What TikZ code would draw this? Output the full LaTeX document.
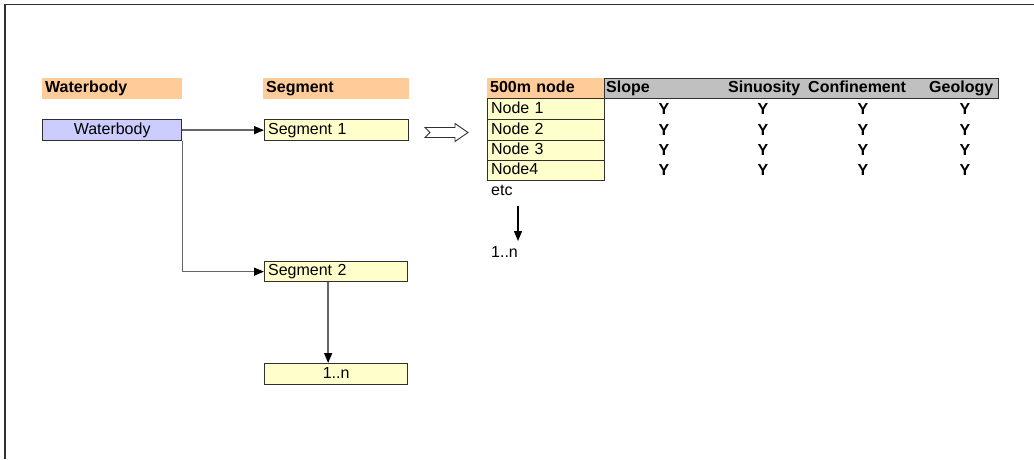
\documentclass[tikz,border=0pt]{standalone}
\usepackage{fontspec}
\setmainfont{Liberation Sans}
\usetikzlibrary{arrows.meta,calc}
\definecolor{hdrorange}{HTML}{FFCC99}
\definecolor{cellyellow}{HTML}{FFFFCC}
\definecolor{cellblue}{HTML}{CCCCFF}
\definecolor{hdrgray}{HTML}{C0C0C0}
\definecolor{edgecol}{HTML}{303030}
\definecolor{linkgray}{HTML}{666666}
\begin{document}
\begin{tikzpicture}[x=1pt,y=-1pt,
  font=\fontsize{16}{19}\selectfont,
  basebox/.style={anchor=north west, inner ysep=0pt, text height=11.5pt, text depth=3pt},
  hdr/.style={basebox, fill=hdrorange, inner xsep=3pt, align=left, font=\fontsize{16}{19}\selectfont\bfseries},
  cell/.style={basebox, draw=edgecol, line width=1.3pt},
  lcell/.style={cell, fill=cellyellow, inner xsep=3.5pt, align=left},
  ccell/.style={cell, align=center},
  ylabel/.style={font=\fontsize{16}{19}\selectfont\bfseries, inner sep=0pt, text height=11.5pt, text depth=0pt},
  collabel/.style={font=\fontsize{16}{19}\selectfont\bfseries, inner sep=0pt, anchor=west, text height=11.5pt, text depth=3pt},
  link/.style={draw=linkgray, line width=1.5pt, -{Triangle[length=10pt,width=8pt,color=black]}},
  darklink/.style={draw=black, line width=1.3pt, -{Triangle[length=10pt,width=8pt,color=black]}}]

\useasboundingbox (0,0) rectangle (1034,459);
% open frame: top and left edges only
\draw[edgecol, line width=1.6pt] (1034,4.5) -- (5,4.5) -- (5,459);

% column headers
\node[hdr, minimum width=140pt, text width=134pt, minimum height=21pt] (hwb) at (42,78) {Waterbody};
\node[hdr, minimum width=146pt, text width=140pt, minimum height=21pt] (hseg) at (263,78) {Segment};

% waterbody and segments
\node[ccell, fill=cellblue, minimum width=139pt, minimum height=21pt] (wb) at (42,119) {Waterbody};
\node[lcell, minimum width=144pt, text width=137pt, minimum height=21pt] (s1) at (264,119) {Segment 1};
\node[lcell, minimum width=143pt, text width=136pt, minimum height=20pt] (s2) at (264,261) {Segment 2};
\node[ccell, fill=cellyellow, minimum width=143pt, minimum height=21pt] (sn) at (264,363) {1..n};

\draw[link] (wb.east) -- (s1.west);
\draw[link] (wb.south east) |- (s2.west);
\draw[link] ([xshift=-8pt]s2.south) -- ([xshift=-8pt]sn.north);

% hollow block arrow with notched tail
\draw[edgecol, line width=0.9pt, fill=white]
  (425,127.5) -- (455,127.5) -- (455,123.5) -- (468,132.5) -- (455,141.5)
  -- (455,137.5) -- (425,137.5) -- (430,132.5) -- cycle;

% 500m node table
\node[hdr, minimum width=117pt, text width=111pt, minimum height=20pt] (h500) at (487,78) {500m node};
\node[lcell, minimum width=117pt, text width=110pt, minimum height=21pt] (n1) at (487,98) {Node 1};
\node[lcell, minimum width=117pt, text width=110pt, minimum height=21pt] (n2) at (487,119) {Node 2};
\node[lcell, minimum width=117pt, text width=110pt, minimum height=20pt] (n3) at (487,140) {Node 3};
\node[lcell, minimum width=117pt, text width=110pt, minimum height=20pt] (n4) at (487,160) {Node4};

% attribute header bar
\node[cell, fill=hdrgray, minimum width=394pt, minimum height=20pt, inner sep=0pt] (attr) at (604,78) {};
\node[collabel] (cSlope) at (606,88) {Slope};
\node[collabel] (cSin) at (728,88) {Sinuosity};
\node[collabel] (cConf) at (808,88) {Confinement};
\node[collabel] (cGeo) at (929,88) {Geology};

% attribute flags
\foreach \r/\yy in {1/108.5, 2/129.5, 3/150, 4/170}{
  \foreach \c/\xx in {1/664, 2/763, 3/863, 4/965}{
    \node[ylabel] (y-\r-\c) at (\xx,\yy) {Y};
  }
}

% continuation
\node[anchor=west, inner sep=0pt] (etc) at (491,190) {etc};
\node[anchor=west, inner sep=0pt] (nodesn) at (491,252) {1..n};
\coordinate (etcTop) at (518,206);
\coordinate (etcEnd) at (518,241);
\draw[darklink] (etcTop) -- (etcEnd);
\end{tikzpicture}
\end{document}
